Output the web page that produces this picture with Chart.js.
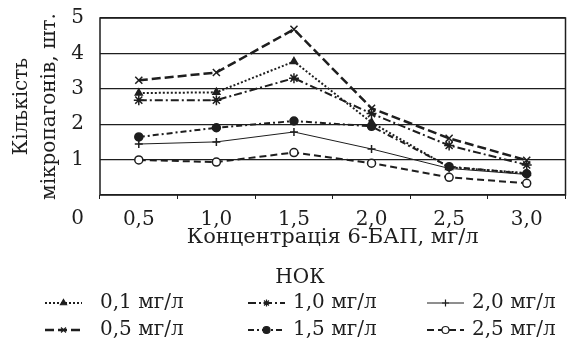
<!DOCTYPE html>
<html>
<head>
<meta charset="utf-8">
<script src="https://cdn.jsdelivr.net/npm/chart.js"></script>
<style>
  html, body { margin: 0; padding: 0; background: #fff; }
  #wrap { width: 572px; height: 340px; }
</style>
</head>
<body>
<div id="wrap"><canvas id="myChart" width="572" height="340"></canvas></div>
<script>
// concentracion de 6-BAP (eje x)
var categorias = ["0,5", "1,0", "1,5", "2,0", "2,5", "3,0"];
var etiquetasY = ["0", "1", "2", "3", "4", "5"];

// series por concentracion de NOK
var nok01 = [2.88, 2.9, 3.77, 2.05, 0.78, 0.62];
var nok05 = [3.24, 3.46, 4.68, 2.45, 1.6, 0.98];
var nok10 = [2.68, 2.68, 3.3, 2.3, 1.4, 0.85];
var nok15 = [1.64, 1.9, 2.09, 1.94, 0.8, 0.6];
var nok20 = [1.44, 1.5, 1.78, 1.3, 0.75, 0.58];
var nok25 = [0.99, 0.93, 1.2, 0.9, 0.5, 0.33];
var nombres = ["0,1 мг/л", "0,5 мг/л", "1,0 мг/л", "1,5 мг/л", "2,0 мг/л", "2,5 мг/л"];

var fuente = "'DejaVu Serif', 'Liberation Serif', serif";
var negro = "#1e1e1e";

function serie(nombre, datos, dash, ancho, estilo, radio, relleno) {
    return {
        label: nombre,
        data: datos,
        borderColor: negro,
        borderWidth: ancho,
        borderDash: dash,
        pointStyle: estilo,
        pointRadius: radio,
        pointBorderWidth: 1.5,
        pointBorderColor: negro,
        pointBackgroundColor: relleno,
        fill: false,
        tension: 0
    };
}

var datasets = [
    serie(nombres[0], nok01, [2, 2], 2, "triangle", 4, negro),
    serie(nombres[1], nok05, [9, 4], 2.5, "crossRot", 5, negro),
    serie(nombres[2], nok10, [8, 3, 2, 3], 2, "star", 5, negro),
    serie(nombres[3], nok15, [6, 3, 2, 3], 2, "circle", 4, negro),
    serie(nombres[4], nok20, [], 1, "cross", 4, negro),
    serie(nombres[5], nok25, [7, 4], 2, "circle", 4, "#fff")
];

// leyenda dibujada a mano: lineas con marcador, 3 columnas x 2 filas
var leyendaNOK = {
    id: "leyendaNOK",
    afterDraw: function(chart) {
        var ctx = chart.ctx;
        ctx.save();
        ctx.fillStyle = negro;
        ctx.font = "20px " + fuente;
        ctx.textAlign = "center";
        ctx.textBaseline = "middle";
        ctx.fillText("НОК", 300, 278);

        // "0" del eje y va a la altura de las etiquetas x
        ctx.textAlign = "right";
        ctx.fillText("0", 84, 219);

        var orden = [0, 2, 4, 1, 3, 5];
        var colX = [45, 248, 427];
        var textoX = [100, 293, 472];
        var filaY = [303, 330];
        var largo = 37;
        ctx.textAlign = "left";
        for (var i = 0; i < orden.length; i++) {
            var ds = chart.data.datasets[orden[i]];
            var c = i % 3, f = Math.floor(i / 3);
            var x0 = colX[c], y = filaY[f];
            ctx.strokeStyle = negro;
            ctx.lineWidth = ds.borderWidth;
            ctx.setLineDash(ds.borderDash);
            ctx.beginPath();
            ctx.moveTo(x0, y);
            ctx.lineTo(x0 + largo, y);
            ctx.stroke();
            ctx.setLineDash([]);
            ctx.fillStyle = ds.pointBackgroundColor;
            ctx.lineWidth = 1.2;
            Chart.helpers.drawPoint(ctx, {
                pointStyle: ds.pointStyle,
                radius: 3.5,
                rotation: 0,
                borderWidth: 1.2
            }, x0 + largo / 2, y);
            ctx.fillStyle = negro;
            ctx.fillText(ds.label, textoX[c], y);
        }
        ctx.restore();
    }
};

// borde completo del area del grafico
var bordeArea = {
    id: "bordeArea",
    afterDatasetsDraw: function(chart) {
        var a = chart.chartArea, ctx = chart.ctx;
        ctx.save();
        ctx.strokeStyle = negro;
        ctx.lineWidth = 1.5;
        ctx.strokeRect(a.left, a.top, a.right - a.left, a.bottom - a.top);
        ctx.restore();
    }
};

var ctx = document.getElementById("myChart");
var myChart = new Chart(ctx, {
    type: "line",
    data: { labels: categorias, datasets: datasets },
    plugins: [leyendaNOK, bordeArea],
    options: {
        responsive: false,
        animation: false,
        layout: { padding: { left: 0, right: 6, top: 18, bottom: 90 } },
        plugins: {
            legend: { display: false },
            tooltip: { enabled: false }
        },
        scales: {
            x: {
                offset: true,
                afterFit: function(scale) { scale.height = 55; },
                grid: {
                    offset: true,
                    drawOnChartArea: false,
                    drawTicks: true,
                    tickLength: 4,
                    color: negro
                },
                border: { display: false },
                ticks: {
                    color: negro,
                    padding: 9,
                    font: { family: fuente, size: 20 },
                    maxRotation: 0
                },
                title: {
                    display: true,
                    text: "Концентрація 6-БАП, мг/л",
                    color: negro,
                    padding: { top: 0, bottom: 0 },
                    font: { family: fuente, size: 21 }
                }
            },
            y: {
                min: 0,
                max: 5,
                afterFit: function(scale) {
                    scale.width = 100;
                    scale.paddingTop = 0;
                    scale.paddingBottom = 0;
                },
                grid: {
                    drawTicks: false,
                    color: negro,
                    lineWidth: 1.2
                },
                border: { display: false },
                ticks: {
                    stepSize: 1,
                    padding: 16,
                    color: negro,
                    font: { family: fuente, size: 20 },
                    callback: function(v) { return v === 0 ? "" : etiquetasY[v]; }
                },
                title: {
                    display: true,
                    text: ["Кількість", "мікропагонів, шт."],
                    color: negro,
                    padding: { top: 8, bottom: 0 },
                    font: { family: fuente, size: 20, lineHeight: 1.4 }
                }
            }
        }
    }
});
</script>
</body>
</html>
